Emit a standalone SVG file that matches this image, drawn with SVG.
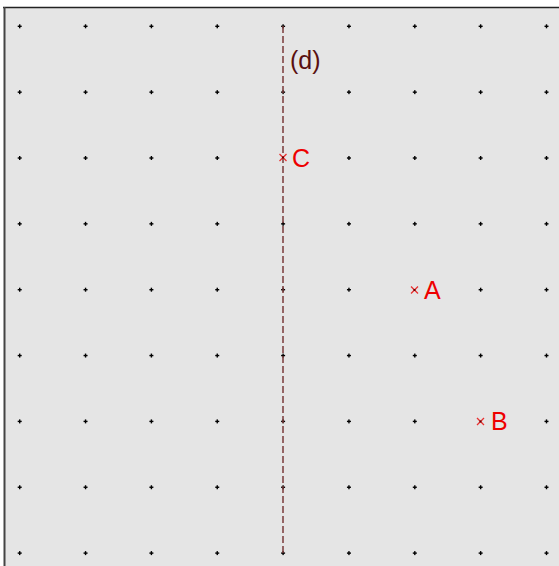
<svg xmlns="http://www.w3.org/2000/svg" width="559" height="566" viewBox="0 0 559 566">
<defs>
<style>
.dot{fill:#000}
.pt{stroke:#e83030;stroke-width:1.3}
.ptc{fill:#600}
.lbl{font-family:"Liberation Sans",Arial,sans-serif;font-size:25px;fill:#ee0000}
.dl{font-family:"Liberation Sans",Arial,sans-serif;font-size:25px;fill:#5a1010}
</style>
<g id="dotp"><rect x="-2" y="-0.7" width="4" height="1.4" class="dot"/><rect x="-0.7" y="-2" width="1.4" height="4" class="dot"/></g>
</defs>
<rect x="0" y="0" width="559" height="566" fill="#ffffff"/>
<rect x="4" y="7" width="555" height="559" fill="#e5e5e5"/>
<line x1="3" y1="7.5" x2="559" y2="7.5" stroke="#222" stroke-width="1.5"/>
<line x1="4.5" y1="7" x2="4.5" y2="566" stroke="#444" stroke-width="2"/>
<g id="grid">
<use href="#dotp" x="19.7" y="26.3"/><use href="#dotp" x="85.55" y="26.3"/><use href="#dotp" x="151.4" y="26.3"/><use href="#dotp" x="217.25" y="26.3"/><use href="#dotp" x="283.1" y="26.3"/><use href="#dotp" x="348.95" y="26.3"/><use href="#dotp" x="414.8" y="26.3"/><use href="#dotp" x="480.65" y="26.3"/><use href="#dotp" x="546.5" y="26.3"/>
<use href="#dotp" x="19.7" y="92.15"/><use href="#dotp" x="85.55" y="92.15"/><use href="#dotp" x="151.4" y="92.15"/><use href="#dotp" x="217.25" y="92.15"/><use href="#dotp" x="283.1" y="92.15"/><use href="#dotp" x="348.95" y="92.15"/><use href="#dotp" x="414.8" y="92.15"/><use href="#dotp" x="480.65" y="92.15"/><use href="#dotp" x="546.5" y="92.15"/>
<use href="#dotp" x="19.7" y="158"/><use href="#dotp" x="85.55" y="158"/><use href="#dotp" x="151.4" y="158"/><use href="#dotp" x="217.25" y="158"/><use href="#dotp" x="348.95" y="158"/><use href="#dotp" x="414.8" y="158"/><use href="#dotp" x="480.65" y="158"/><use href="#dotp" x="546.5" y="158"/>
<use href="#dotp" x="19.7" y="223.85"/><use href="#dotp" x="85.55" y="223.85"/><use href="#dotp" x="151.4" y="223.85"/><use href="#dotp" x="217.25" y="223.85"/><use href="#dotp" x="283.1" y="223.85"/><use href="#dotp" x="348.95" y="223.85"/><use href="#dotp" x="414.8" y="223.85"/><use href="#dotp" x="480.65" y="223.85"/><use href="#dotp" x="546.5" y="223.85"/>
<use href="#dotp" x="19.7" y="289.7"/><use href="#dotp" x="85.55" y="289.7"/><use href="#dotp" x="151.4" y="289.7"/><use href="#dotp" x="217.25" y="289.7"/><use href="#dotp" x="283.1" y="289.7"/><use href="#dotp" x="348.95" y="289.7"/><use href="#dotp" x="480.65" y="289.7"/><use href="#dotp" x="546.5" y="289.7"/>
<use href="#dotp" x="19.7" y="355.55"/><use href="#dotp" x="85.55" y="355.55"/><use href="#dotp" x="151.4" y="355.55"/><use href="#dotp" x="217.25" y="355.55"/><use href="#dotp" x="283.1" y="355.55"/><use href="#dotp" x="348.95" y="355.55"/><use href="#dotp" x="414.8" y="355.55"/><use href="#dotp" x="480.65" y="355.55"/><use href="#dotp" x="546.5" y="355.55"/>
<use href="#dotp" x="19.7" y="421.4"/><use href="#dotp" x="85.55" y="421.4"/><use href="#dotp" x="151.4" y="421.4"/><use href="#dotp" x="217.25" y="421.4"/><use href="#dotp" x="283.1" y="421.4"/><use href="#dotp" x="348.95" y="421.4"/><use href="#dotp" x="414.8" y="421.4"/><use href="#dotp" x="546.5" y="421.4"/>
<use href="#dotp" x="19.7" y="487.25"/><use href="#dotp" x="85.55" y="487.25"/><use href="#dotp" x="151.4" y="487.25"/><use href="#dotp" x="217.25" y="487.25"/><use href="#dotp" x="283.1" y="487.25"/><use href="#dotp" x="348.95" y="487.25"/><use href="#dotp" x="414.8" y="487.25"/><use href="#dotp" x="480.65" y="487.25"/><use href="#dotp" x="546.5" y="487.25"/>
<use href="#dotp" x="19.7" y="553.1"/><use href="#dotp" x="85.55" y="553.1"/><use href="#dotp" x="151.4" y="553.1"/><use href="#dotp" x="217.25" y="553.1"/><use href="#dotp" x="283.1" y="553.1"/><use href="#dotp" x="348.95" y="553.1"/><use href="#dotp" x="414.8" y="553.1"/><use href="#dotp" x="480.65" y="553.1"/><use href="#dotp" x="546.5" y="553.1"/>
</g>
<g id="connectors">
<line id="line-d" x1="283" y1="26" x2="283" y2="553" stroke="#7a3a3a" stroke-width="1.5" stroke-dasharray="7,3"/>
</g>
<g id="label-d"><text class="dl" x="290" y="69">(d)</text></g>
<g id="point-C">
<path class="pt" d="M279.5,154 L286.5,161 M279.5,161 L286.5,154"/>
<rect class="ptc" x="282" y="156.5" width="2" height="2"/>
<text class="lbl" x="292" y="167">C</text>
</g>
<g id="point-A">
<path class="pt" d="M411,286.5 L418,293.5 M411,293.5 L418,286.5"/>
<rect class="ptc" x="413.5" y="289" width="2" height="2"/>
<text class="lbl" x="424" y="298.5">A</text>
</g>
<g id="point-B">
<path class="pt" d="M477,418 L484,425 M477,425 L484,418"/>
<rect class="ptc" x="479.5" y="420.5" width="2" height="2"/>
<text class="lbl" x="491" y="430">B</text>
</g>
</svg>
